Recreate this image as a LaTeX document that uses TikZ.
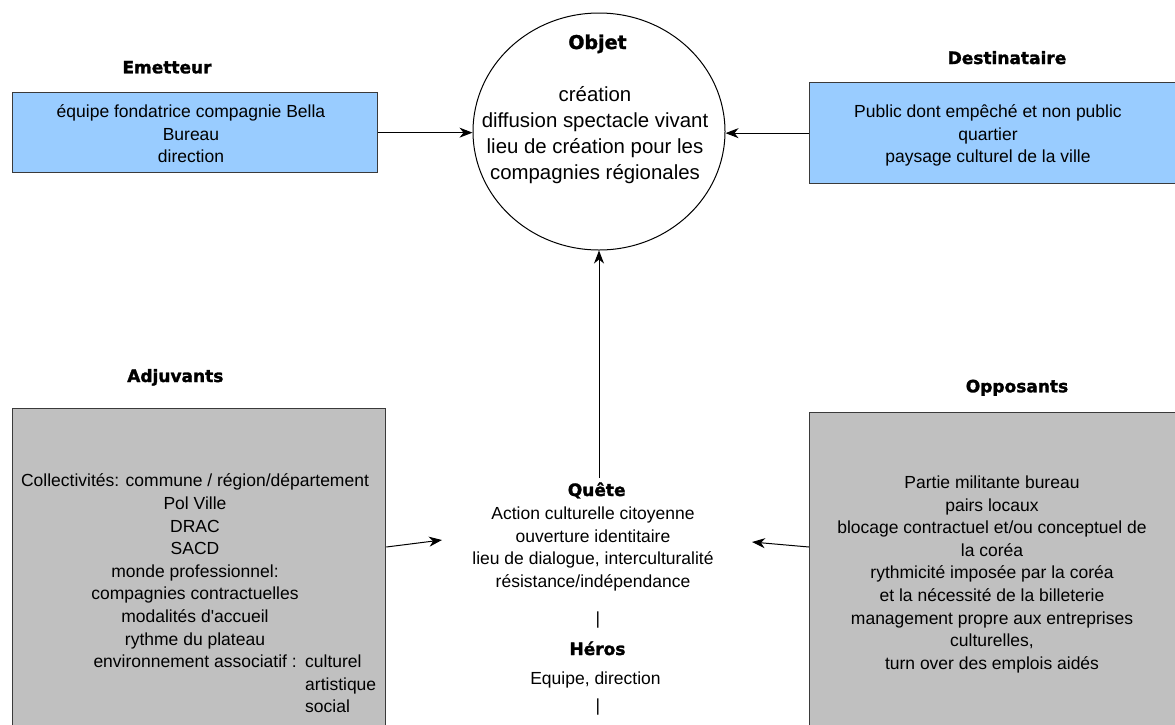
\documentclass[tikz,border=0pt]{standalone}
\usepackage{fontspec}
\setmainfont{Liberation Sans}
\newfontfamily\titlefont{DejaVu Sans}[BoldFeatures={FakeBold=1.6}]
\usetikzlibrary{arrows.meta,shapes.geometric}
\definecolor{boxblue}{HTML}{99CCFF}
\definecolor{boxgray}{HTML}{C0C0C0}
\definecolor{boxline}{HTML}{3A3A3A}
\begin{document}
\begin{tikzpicture}[x=1pt,y=-1pt,
  title/.style={font=\titlefont\bfseries\fontsize{17}{20}\selectfont, anchor=base, inner sep=0pt},
  bodytext/.style={font=\fontsize{17.5}{22.6}\selectfont, align=center, anchor=north, inner sep=0pt},
  bodyleft/.style={font=\fontsize{17.5}{22.6}\selectfont, align=left, anchor=north west, inner sep=0pt},
  objtext/.style={font=\fontsize{20.4}{26}\selectfont, align=center, anchor=north, inner sep=0pt},
  panel/.style={draw=boxline, line width=1.3pt, anchor=north west, inner sep=0pt},
  bluepanel/.style={panel, fill=boxblue},
  graypanel/.style={panel, fill=boxgray},
  arr/.style={-{Stealth[length=13pt,width=10pt,inset=4pt]}, line width=1pt, black}]
\useasboundingbox (0,0) rectangle (1175,724);
\clip (0,0) rectangle (1175,724);
\fill[white] (0,0) rectangle (1175,724);

% panels
\node[bluepanel, minimum width=365pt, minimum height=80pt] (emet) at (12,92) {};
\node[bluepanel, minimum width=380pt, minimum height=101pt] (dest) at (809,82) {};
\node[graypanel, minimum width=373pt, minimum height=340pt] (adj) at (12,408) {};
\node[graypanel, minimum width=380pt, minimum height=340pt] (opp) at (809,412) {};
\node[draw=black, line width=1pt, ellipse, minimum width=252pt, minimum height=237pt, inner sep=0pt] (obj) at (599,131.5) {};

% titles
\node[title] (temet) at (167,73.3) {Emetteur};
\node[title] (tdest) at (1007,64) {Destinataire};
\node[title, font=\titlefont\bfseries\fontsize{19}{22}\selectfont] (tobj) at (597.5,49) {Objet};
\node[title] (tadj) at (175.3,382) {Adjuvants};
\node[title] (topp) at (1017,392.3) {Opposants};
\node[title] (tquete) at (596.7,496) {Quête};
\node[title] (theros) at (597.5,655) {Héros};

% texts
\node[bodytext] (xemet) at (191,101.7) {\strut équipe fondatrice compagnie Bella\\\strut Bureau\\\strut direction};
\node[bodytext] (xdest) at (988,101.7) {\strut Public dont empêché et non public\\\strut quartier\\\strut paysage culturel de la ville};
\node[objtext] (xobj) at (595,83.5) {\strut création\\\strut diffusion spectacle vivant\\\strut lieu de création pour les\\\strut compagnies régionales};
\node[bodytext] (xadj) at (195,470.9) {\strut Collectivités: commune / région/département\\\strut Pol Ville\\\strut DRAC\\\strut SACD\\\strut monde professionnel:\\\strut compagnies contractuelles\\\strut modalités d\textquotesingle accueil\\\strut rythme du plateau};
\node[font=\fontsize{17.5}{22.6}\selectfont, anchor=base east, inner sep=0pt] (xenv) at (297,667.5) {environnement associatif :};
\node[bodyleft] (xenv2) at (305,651.7) {\strut culturel\\\strut artistique\\\strut social};
\node[bodytext] (xopp) at (992,472.5) {\strut Partie militante bureau\\\strut pairs locaux\\\strut blocage contractuel et/ou conceptuel de\\\strut la coréa\\\strut rythmicité imposée par la coréa\\\strut et la nécessité de la billeterie\\\strut management propre aux entreprises\\\strut culturelles,\\\strut turn over des emplois aidés};
\node[bodytext] (xquete) at (593,503.5) {\strut Action culturelle citoyenne\\\strut ouverture identitaire\\\strut lieu de dialogue, interculturalité\\\strut résistance/indépendance};
\node[font=\fontsize{17.5}{22.6}\selectfont, anchor=base, inner sep=0pt] (bar1) at (598,624.6) {|};
\node[font=\fontsize{17.5}{22.6}\selectfont, anchor=base, inner sep=0pt] (xheros) at (595.5,684) {Equipe, direction};
\node[font=\fontsize{17.5}{22.6}\selectfont, anchor=base, inner sep=0pt] (bar2) at (598,711.3) {|};

% connectors
\coordinate (qtop) at (599,478);
\coordinate (qin1) at (442,540);
\coordinate (qin2) at (752,542);
\draw[arr] (emet.east) -- (emet.east -| obj.west);
\draw[arr] (dest.west) -- (dest.west -| obj.east);
\draw[arr] (qtop) -- (obj.south);
\draw[arr] ([yshift=-139pt]adj.north east) -- (qin1);
\draw[arr] ([yshift=-135pt]opp.north west) -- (qin2);
\end{tikzpicture}
\end{document}
